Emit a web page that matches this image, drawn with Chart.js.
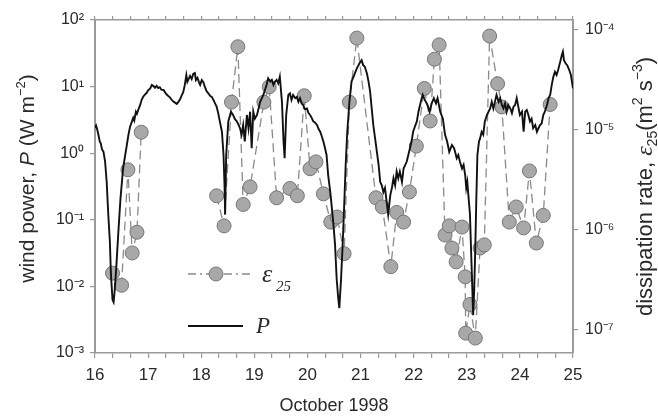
<!DOCTYPE html>
<html>
<head>
<meta charset="utf-8">
<script src="https://cdn.jsdelivr.net/npm/chart.js@4.4.1/dist/chart.umd.min.js"></script>
<style>
  html, body { margin: 0; padding: 0; background: #fff; }
</style>
</head>
<body>
<canvas id="chart" width="658" height="418"></canvas>
<script>
// wind power P (W m-2)
const pDays = [
  16.00, 16.02, 16.04, 16.07, 16.09, 16.11, 16.13, 16.16, 16.19, 16.22, 16.25, 16.28, 16.30, 16.33, 16.35, 16.37,
  16.40, 16.44, 16.48, 16.53, 16.57, 16.60, 16.63, 16.66, 16.69, 16.72, 16.74, 16.77, 16.79, 16.82, 16.85, 16.88,
  16.91, 16.94, 16.97, 17.00, 17.04, 17.07, 17.10, 17.13, 17.16, 17.19, 17.22, 17.25, 17.29, 17.32, 17.35, 17.38,
  17.41, 17.44, 17.47, 17.50, 17.54, 17.57, 17.60, 17.63, 17.66, 17.69, 17.72, 17.74, 17.76, 17.79, 17.82, 17.85,
  17.88, 17.90, 17.93, 17.96, 17.98, 18.01, 18.04, 18.07, 18.10, 18.13, 18.17, 18.20, 18.23, 18.26, 18.29, 18.32,
  18.35, 18.39, 18.42, 18.44, 18.45, 18.47, 18.51, 18.56, 18.60, 18.63, 18.67, 18.70, 18.73, 18.76, 18.79, 18.82,
  18.86, 18.89, 18.92, 18.95, 18.98, 19.01, 19.05, 19.08, 19.11, 19.17, 19.23, 19.26, 19.30, 19.33, 19.36, 19.39,
  19.42, 19.45, 19.48, 19.52, 19.55, 19.57, 19.60, 19.64, 19.67, 19.70, 19.73, 19.77, 19.80, 19.83, 19.86, 19.89,
  19.92, 19.95, 19.99, 20.02, 20.05, 20.08, 20.11, 20.14, 20.18, 20.21, 20.24, 20.27, 20.30, 20.33, 20.36, 20.39,
  20.43, 20.46, 20.49, 20.52, 20.55, 20.58, 20.60, 20.63, 20.66, 20.69, 20.72, 20.75, 20.79, 20.83, 20.88, 20.93,
  20.98, 21.02, 21.05, 21.08, 21.12, 21.15, 21.18, 21.21, 21.24, 21.29, 21.34, 21.37, 21.40, 21.43, 21.46, 21.49,
  21.52, 21.56, 21.59, 21.62, 21.65, 21.68, 21.71, 21.74, 21.78, 21.81, 21.84, 21.87, 21.90, 21.93, 21.96, 21.99,
  22.03, 22.06, 22.09, 22.12, 22.15, 22.17, 22.21, 22.26, 22.30, 22.34, 22.38, 22.42, 22.45, 22.50, 22.55, 22.59,
  22.63, 22.67, 22.72, 22.76, 22.78, 22.81, 22.84, 22.87, 22.91, 22.94, 22.97, 22.99, 23.01, 23.03, 23.06, 23.08,
  23.10, 23.12, 23.14, 23.16, 23.18, 23.20, 23.23, 23.25, 23.28, 23.31, 23.34, 23.38, 23.41, 23.44, 23.47, 23.50,
  23.53, 23.56, 23.60, 23.63, 23.66, 23.69, 23.72, 23.75, 23.78, 23.82, 23.85, 23.88, 23.91, 23.94, 23.97, 24.00,
  24.04, 24.07, 24.10, 24.13, 24.16, 24.19, 24.22, 24.25, 24.29, 24.32, 24.35, 24.38, 24.41, 24.44, 24.47, 24.51,
  24.54, 24.57, 24.60, 24.63, 24.66, 24.69, 24.72, 24.76, 24.79, 24.81, 24.83, 24.86, 24.89, 24.93, 24.96, 24.98,
  25.00
];
const pValues = [
  2.4, 2.6, 2.3, 1.8, 1.5, 1.4, 1.15, 1.05, 0.75, 0.37, 0.12, 0.047, 0.015, 0.0063, 0.0058, 0.0085,
  0.019, 0.066, 0.21, 0.6, 0.95, 1.33, 1.9, 2.5, 2.9, 3.4, 3.1, 4.2, 3.9, 4.6, 5.3, 6.4,
  7.1, 7.6, 8.0, 8.8, 9.4, 10.6, 10.2, 9.6, 10.3, 9.5, 9.8, 9.0, 8.9, 8.2, 7.6, 7.2,
  6.9, 6.4, 6.0, 5.8, 5.5, 5.9, 6.4, 7.3, 8.2, 10.5, 14.9, 11.8, 12.8, 14.5, 13.0, 15.5,
  16.0, 12.5, 13.5, 11.5, 10.6, 12.5, 11.6, 9.8, 8.6, 8.0, 7.2, 7.0, 6.3, 5.6, 5.0, 4.0,
  3.0, 2.1, 0.94, 0.30, 0.12, 0.94, 3.0, 4.2, 3.75, 3.3, 3.0, 2.7, 2.37, 1.9, 2.65, 1.5,
  3.75, 2.37, 4.2, 1.19, 4.2, 3.3, 3.75, 4.7, 5.9, 7.5, 10.6, 13.3, 11.9, 12.6, 10.6, 11.9,
  12.6, 11.2, 14.1, 5.9, 1.5, 0.84, 3.75, 7.5, 7.9, 6.3, 7.5, 6.7, 7.0, 5.9, 6.7, 5.6,
  5.3, 4.6, 4.7, 4.0, 3.75, 3.4, 3.0, 2.9, 2.65, 2.3, 2.1, 1.8, 1.5, 1.2, 0.94, 0.47,
  0.26, 0.15, 0.084, 0.042, 0.013, 0.0066, 0.0047, 0.0118, 0.037, 0.15, 0.67, 2.1, 5.9, 11.9, 14.9, 18.8,
  22.4, 25, 21, 19.9, 15.8, 11.9, 8.4, 4.7, 2.65, 1.33, 0.67, 0.37, 0.33, 0.26, 0.30, 0.19,
  0.12, 0.235, 0.30, 0.42, 0.33, 0.53, 0.42, 0.53, 0.37, 0.59, 0.66, 0.75, 0.95, 1.19, 1.5, 2.1,
  2.6, 3.0, 4.2, 5.3, 6.6, 7.5, 6.3, 5.3, 4.2, 5.6, 6.7, 5.6, 6.7, 4.2, 3.3, 1.9,
  1.5, 1.05, 1.33, 1.19, 1.05, 0.84, 0.94, 0.75, 0.59, 0.67, 0.47, 0.30, 0.37, 0.235, 0.12, 0.037,
  0.0118, 0.0037, 0.009, 0.037, 0.21, 0.94, 1.5, 1.67, 2.1, 1.9, 3.0, 3.75, 4.2, 4.7, 5.9, 4.7,
  5.9, 7.5, 5.9, 6.7, 5.3, 4.7, 5.6, 4.2, 5.3, 4.7, 4.0, 5.0, 5.3, 6.7, 5.0, 3.75,
  4.2, 2.1, 4.2, 4.45, 3.75, 3.0, 3.3, 2.37, 2.65, 2.1, 2.37, 2.65, 2.8, 3.75, 4.2, 5.3,
  6.7, 7.5, 10.6, 14.1, 16.7, 14.9, 17.7, 23.7, 29.8, 33.4, 25, 22.4, 21, 17.7, 14.9, 11.9,
  9.4
];

// dissipation rate eps25 (m2 s-3), one entry per marker; null = break in the dashed line
const epsDays = [
  16.33, 16.50, 16.62, 16.70, 16.79, 16.87, 17.60,
  18.29, 18.43, 18.57, 18.69, 18.79, 18.92, 19.18, 19.28, 19.42, 19.67, 19.81, 19.94,
  20.05, 20.16, 20.30, 20.44, 20.56, 20.69, 20.79, 20.93, 21.29, 21.41, 21.57, 21.68,
  21.81, 21.92, 22.05, 22.20, 22.31, 22.39, 22.48, 22.59, 22.67, 22.72, 22.80, 22.91,
  22.97, 22.98, 23.06, 23.16, 23.25, 23.33, 23.43, 23.58, 23.66, 23.80, 23.93, 24.07,
  24.18, 24.31, 24.44, 24.57
];
const epsValues = [
  3.7e-7, 2.8e-7, 4.0e-6, 5.9e-7, 9.5e-7, 9.5e-6, null,
  2.2e-6, 1.1e-6, 1.9e-5, 6.8e-5, 1.8e-6, 2.7e-6, 1.9e-5, 2.7e-5, 2.1e-6, 2.6e-6, 2.2e-6, 2.2e-5,
  4.1e-6, 4.8e-6, 2.3e-6, 1.2e-6, 1.35e-6, 5.8e-7, 1.9e-5, 8.3e-5, 2.1e-6, 1.7e-6, 4.3e-7, 1.5e-6,
  1.2e-6, 2.4e-6, 6.9e-6, 2.6e-5, 1.23e-5, 5.1e-5, 7.1e-5, 8.9e-7, 1.1e-6, 6.6e-7, 4.8e-7, 1.07e-6,
  3.4e-7, 9.3e-8, 1.8e-7, 8.3e-8, 6.6e-7, 7.1e-7, 8.7e-5, 2.9e-5, 1.7e-5, 1.2e-6, 1.7e-6, 1.05e-6,
  3.9e-6, 7.4e-7, 1.4e-6, 1.8e-5
];

const xTickDays = [16, 17, 18, 19, 20, 21, 22, 23, 24, 25];
const leftTicks = [1e-3, 1e-2, 1e-1, 1, 10, 100];
const leftTickLabels = ['10⁻³', '10⁻²', '10⁻¹', '10⁰', '10¹', '10²'];
const rightTicks = [1e-7, 1e-6, 1e-5, 1e-4];
const rightTickLabels = ['10⁻⁷', '10⁻⁶', '10⁻⁵', '10⁻⁴'];

const AXIS = '#9a9a9a';
const TEXT = '#2a2a2a';
const SANS = '"Liberation Sans", Arial, sans-serif';
const SERIF = '"Liberation Serif", "Times New Roman", serif';

// ticks every 8 hours, labels on whole days only
function dayTicks(scale) {
  const t = [];
  xTickDays.forEach(d => {
    t.push({ value: d });
    if (d < xTickDays[xTickDays.length - 1]) {
      t.push({ value: d + 1 / 3 });
      t.push({ value: d + 2 / 3 });
    }
  });
  scale.ticks = t;
}

function drawRich(ctx, parts, x, y, rot) {
  ctx.save();
  ctx.translate(x, y);
  ctx.rotate(rot);
  let total = 0;
  parts.forEach(p => { ctx.font = p[1]; total += ctx.measureText(p[0]).width; });
  let cx = -total / 2;
  ctx.fillStyle = TEXT;
  ctx.textBaseline = 'alphabetic';
  ctx.textAlign = 'left';
  parts.forEach(p => {
    ctx.font = p[1];
    ctx.fillText(p[0], cx, p[2] || 0);
    cx += ctx.measureText(p[0]).width;
  });
  ctx.restore();
}

const extras = {
  id: 'extras',
  afterDraw(chart) {
    const ctx = chart.ctx;
    const area = chart.chartArea;
    const midY = (area.top + area.bottom) / 2;

    // axis titles
    drawRich(ctx, [
      ['wind power, ', '21px ' + SANS],
      ['P', 'italic 21px ' + SANS],
      [' (W m', '21px ' + SANS],
      ['−2', '13px ' + SANS, -9],
      [')', '21px ' + SANS]
    ], 34, midY - 8, -Math.PI / 2);

    drawRich(ctx, [
      ['dissipation rate, ', '22px ' + SANS],
      ['ε', 'italic 24px ' + SERIF],
      ['25', '14px ' + SANS, 5],
      ['(m', '22px ' + SANS],
      ['2', '14px ' + SANS, -10],
      [' s', '22px ' + SANS],
      ['−3', '14px ' + SANS, -10],
      [')', '22px ' + SANS]
    ], 652, midY, -Math.PI / 2);

    drawRich(ctx, [['October 1998', '18px ' + SANS]], 334, 411, 0);

    // legend inside the plot
    ctx.save();
    ctx.strokeStyle = '#8a8a8a';
    ctx.lineWidth = 1.3;
    ctx.setLineDash([8, 4, 2, 4]);
    ctx.beginPath();
    ctx.moveTo(188, 274);
    ctx.lineTo(250, 274);
    ctx.stroke();
    ctx.setLineDash([]);
    ctx.beginPath();
    ctx.arc(216, 274, 7, 0, Math.PI * 2);
    ctx.fillStyle = '#a8a8a8';
    ctx.fill();
    ctx.strokeStyle = '#767676';
    ctx.lineWidth = 1;
    ctx.stroke();

    ctx.strokeStyle = '#111';
    ctx.lineWidth = 1.8;
    ctx.beginPath();
    ctx.moveTo(188, 326);
    ctx.lineTo(243, 326);
    ctx.stroke();
    ctx.restore();

    ctx.save();
    ctx.fillStyle = TEXT;
    ctx.textBaseline = 'alphabetic';
    ctx.font = 'italic 26px ' + SERIF;
    ctx.fillText('ε', 262, 282);
    ctx.font = 'italic 15px ' + SERIF;
    ctx.fillText('25', 276, 291);
    ctx.font = 'italic 23px ' + SERIF;
    ctx.fillText('P', 256, 333);
    ctx.restore();
  }
};

new Chart(document.getElementById('chart'), {
  type: 'line',
  data: {
    datasets: [
      {
        label: 'P',
        data: pDays.map((d, i) => ({ x: d, y: pValues[i] })),
        yAxisID: 'y',
        borderColor: '#111',
        borderWidth: 1.9,
        pointRadius: 0,
        tension: 0
      },
      {
        label: 'ε25',
        data: epsDays.map((d, i) => ({ x: d, y: epsValues[i] })),
        yAxisID: 'y2',
        borderColor: '#8a8a8a',
        borderWidth: 1.3,
        borderDash: [9, 5],
        spanGaps: false,
        pointRadius: 7,
        pointBackgroundColor: '#a8a8a8',
        pointBorderColor: '#767676',
        pointBorderWidth: 1,
        tension: 0
      }
    ]
  },
  options: {
    responsive: false,
    animation: false,
    devicePixelRatio: 1,
    layout: { padding: 0 },
    plugins: {
      legend: { display: false },
      tooltip: { enabled: false }
    },
    scales: {
      x: {
        type: 'linear',
        position: 'bottom',
        min: 16,
        max: 25,
        afterBuildTicks: dayTicks,
        afterFit: s => { s.height = 65; },
        ticks: {
          autoSkip: false,
          maxRotation: 0,
          padding: 7,
          color: TEXT,
          font: { family: SANS, size: 17 },
          callback: v => (Math.abs(v - Math.round(v)) < 1e-6 ? String(Math.round(v)) : '')
        },
        grid: { drawOnChartArea: false, tickLength: 5, color: AXIS, lineWidth: 1.2 },
        border: { color: AXIS, width: 1.5 }
      },
      xTop: {
        type: 'linear',
        axis: 'x',
        position: 'top',
        min: 16,
        max: 25,
        afterBuildTicks: dayTicks,
        afterFit: s => { s.height = 20; },
        ticks: { display: false },
        grid: { drawOnChartArea: false, tickLength: 4, color: AXIS, lineWidth: 1.2 },
        border: { color: AXIS, width: 1.5 }
      },
      y: {
        type: 'logarithmic',
        position: 'left',
        min: 1e-3,
        max: 100,
        afterBuildTicks: s => { s.ticks = leftTicks.map(v => ({ value: v })); },
        afterFit: s => { s.width = 95; },
        ticks: {
          padding: 6,
          color: TEXT,
          font: { family: SANS, size: 16 },
          callback: v => leftTickLabels[leftTicks.indexOf(v)]
        },
        grid: { drawOnChartArea: false, tickLength: 5, color: AXIS, lineWidth: 1.2 },
        border: { color: AXIS, width: 2 }
      },
      y2: {
        type: 'logarithmic',
        position: 'right',
        min: Math.pow(10, -7.23),
        max: Math.pow(10, -3.9),
        afterBuildTicks: s => { s.ticks = rightTicks.map(v => ({ value: v })); },
        afterFit: s => { s.width = 85; },
        ticks: {
          padding: 7,
          color: TEXT,
          font: { family: SANS, size: 16 },
          callback: v => rightTickLabels[rightTicks.indexOf(v)]
        },
        grid: { drawOnChartArea: false, tickLength: 5, color: AXIS, lineWidth: 1.2 },
        border: { color: AXIS, width: 2 }
      }
    }
  },
  plugins: [extras]
});
</script>
</body>
</html>
